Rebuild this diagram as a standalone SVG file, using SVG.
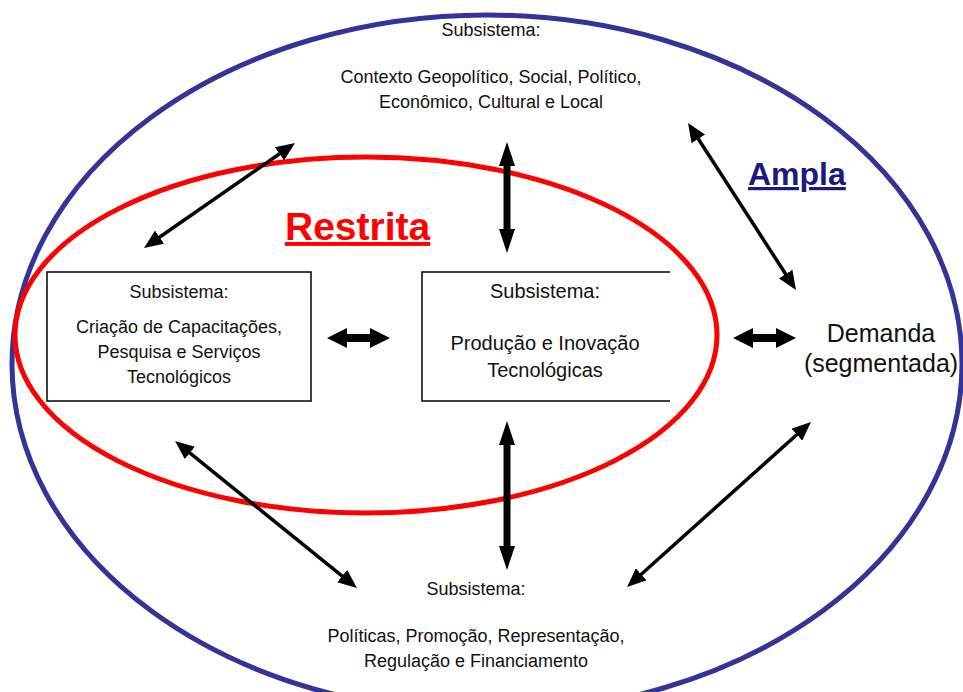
<svg xmlns="http://www.w3.org/2000/svg" width="963" height="692" viewBox="0 0 963 692">
<style>
  .t { font-family: "Liberation Sans", Arial, sans-serif; fill: #111; text-anchor: middle; }
  .s18 { font-size: 18px; }
  .s20 { font-size: 20px; }
  .s25 { font-size: 25px; }
  .thin { stroke: #000; stroke-width: 3.5; fill: none; }
  .thick { stroke: #000; stroke-width: 7; fill: none; }
  .fat { stroke: #000; stroke-width: 8; fill: none; }
  .box { stroke: #000; stroke-width: 1.5; fill: #fff; }
</style>
<defs>
  <marker id="ah" markerUnits="userSpaceOnUse" markerWidth="19" markerHeight="16" refX="8" refY="8" orient="auto-start-reverse">
    <path d="M0,0 L19,8 L0,16 z" fill="#000"/>
  </marker>
  <marker id="ahb" markerUnits="userSpaceOnUse" markerWidth="24" markerHeight="16" refX="12" refY="8" orient="auto-start-reverse">
    <path d="M0,0 L24,8 L0,16 z" fill="#000"/>
  </marker>
  <marker id="ahf" markerUnits="userSpaceOnUse" markerWidth="20" markerHeight="20" refX="8" refY="10" orient="auto-start-reverse">
    <path d="M0,0 L20,10 L0,20 z" fill="#000"/>
  </marker>
</defs>
<rect width="963" height="692" fill="#fff"/>

<g id="ampla">
  <ellipse cx="487" cy="364" rx="475" ry="349" fill="none" stroke="#33339A" stroke-width="5"/>
  <text x="748" y="185" font-family="Liberation Sans, Arial, sans-serif" font-size="32" font-weight="bold" fill="#1A1A80" text-decoration="underline">Ampla</text>
</g>

<g id="restrita">
  <ellipse cx="366" cy="335" rx="351" ry="178" fill="none" stroke="#FF0000" stroke-width="5"/>
  <text x="285" y="240" font-family="Liberation Sans, Arial, sans-serif" font-size="39" font-weight="bold" fill="#FF0000" text-decoration="underline">Restrita</text>
</g>

<g id="contexto">
  <text class="t s18" x="491" y="36">Subsistema:</text>
  <text class="t s18" x="491" y="83">Contexto Geopolítico, Social, Político,</text>
  <text class="t s18" x="491" y="108">Econômico, Cultural e Local</text>
</g>

<g id="capacitacoes">
  <rect class="box" x="47" y="272" width="264" height="129"/>
  <text class="t s18" x="179" y="298">Subsistema:</text>
  <text class="t s18" x="179" y="333">Criação de Capacitações,</text>
  <text class="t s18" x="179" y="358">Pesquisa e Serviços</text>
  <text class="t s18" x="179" y="383">Tecnológicos</text>
</g>

<g id="producao">
  <rect x="422" y="272" width="248" height="129" fill="#fff"/>
  <path d="M670,272 H422 V401 H670" fill="none" stroke="#000" stroke-width="1.5"/>
  <text class="t s20" x="545" y="298">Subsistema:</text>
  <text class="t s20" x="545" y="350">Produção e Inovação</text>
  <text class="t s20" x="545" y="377">Tecnológicas</text>
</g>

<g id="demanda">
  <text class="t s25" x="881" y="342">Demanda</text>
  <text class="t s25" x="881" y="372">(segmentada)</text>
</g>

<g id="politicas">
  <text class="t s18" x="476" y="595">Subsistema:</text>
  <text class="t s18" x="476" y="642">Políticas, Promoção, Representação,</text>
  <text class="t s18" x="476" y="667">Regulação e Financiamento</text>
</g>

<g id="connectors">
  <line class="thin" x1="153" y1="241.7" x2="286" y2="149.3" marker-start="url(#ah)" marker-end="url(#ah)"/>
  <line class="thick" x1="507" y1="154" x2="507" y2="241" marker-start="url(#ahb)" marker-end="url(#ahb)"/>
  <line class="thin" x1="694" y1="132.2" x2="790" y2="280.8" marker-start="url(#ah)" marker-end="url(#ah)"/>
  <line class="fat" x1="339" y1="338" x2="378" y2="338" marker-start="url(#ahf)" marker-end="url(#ahf)"/>
  <line class="fat" x1="745" y1="338" x2="784" y2="338" marker-start="url(#ahf)" marker-end="url(#ahf)"/>
  <line class="thin" x1="183.6" y1="447.9" x2="348.4" y2="581.1" marker-start="url(#ah)" marker-end="url(#ah)"/>
  <line class="thick" x1="507" y1="433" x2="507" y2="558" marker-start="url(#ahb)" marker-end="url(#ahb)"/>
  <line class="thin" x1="802.8" y1="429.3" x2="635.2" y2="579.7" marker-start="url(#ah)" marker-end="url(#ah)"/>
</g>
</svg>
